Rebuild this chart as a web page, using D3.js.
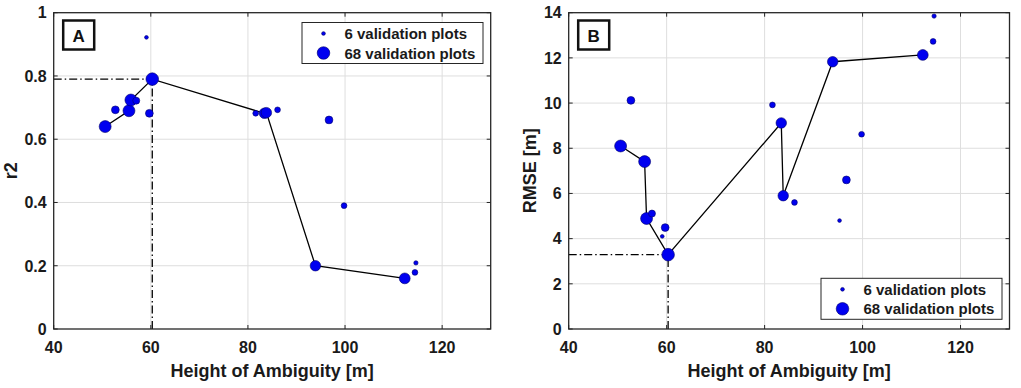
<!DOCTYPE html>
<html>
<head>
<meta charset="utf-8">
<script src="https://cdn.jsdelivr.net/npm/d3@7"></script>
<style>
  body { margin: 0; background: #fff; }
  svg { display: block; font-family: "Liberation Sans", Arial, sans-serif; }
</style>
</head>
<body>
<svg id="chart" width="1021" height="388"></svg>
<script>
// height of ambiguity [m] for each acquisition
const hoa    = [50.6, 52.7, 55.5, 55.9, 57.0, 59.1, 59.7, 60.3, 81.6, 83.4, 83.8, 86.1, 93.9, 95.3, 96.7, 99.8, 112.3, 114.4, 114.6];
// number of validation plots (marker size)
const nPlots = [61, 26, 61, 61, 21, 6, 26, 68, 14, 47, 47, 14, 47, 6, 26, 14, 50, 14, 8];
const r2     = [0.64, 0.693, 0.69, 0.724, 0.722, 0.922, 0.682, 0.79, 0.682, 0.682, 0.684, 0.693, 0.2, 0.845, 0.661, 0.39, 0.16, 0.179, 0.209];
const rmse   = [8.1, 10.12, 7.41, 4.89, 5.11, 4.1, 4.49, 3.29, 9.92, 9.12, 5.9, 5.6, 11.83, 4.8, 6.6, 8.62, 12.13, 12.73, 13.85];
// points joined by the black line
const trend  = [1, 0, 1, 1, 0, 0, 0, 1, 0, 1, 1, 0, 1, 0, 0, 0, 1, 0, 0];

const xTicks = [40, 60, 80, 100, 120];
const r2Ticks = [0, 0.2, 0.4, 0.6, 0.8, 1];
const rmseTicks = [0, 2, 4, 6, 8, 10, 12, 14];
const legendCounts = [6, 68];

const svg = d3.select("#chart");
const textCol = "#1a1a1a";
const rScale = d3.scaleSqrt().domain([0, 68]).range([0, 6.3]);

function drawPanel(cfg) {
  const g = svg.append("g");
  const x = d3.scaleLinear().domain([40, 130]).range([cfg.left, cfg.right]);
  const y = d3.scaleLinear().domain(cfg.yDomain).range([329, 12.7]);
  const vals = cfg.values;

  // grid
  g.append("g").selectAll("line").data(xTicks.slice(1))
    .join("line")
    .attr("x1", d => x(d)).attr("x2", d => x(d))
    .attr("y1", y.range()[0]).attr("y2", y.range()[1])
    .attr("stroke", "#dedede").attr("stroke-width", 1);
  g.append("g").selectAll("line").data(cfg.yTicks.slice(1, -1))
    .join("line")
    .attr("x1", cfg.left).attr("x2", cfg.right)
    .attr("y1", d => y(d)).attr("y2", d => y(d))
    .attr("stroke", "#dedede").attr("stroke-width", 1);

  // best point, dash-dot guides
  const idx = d3.range(hoa.length).filter(i => trend[i]);
  const best = cfg.pickBest(idx);
  const dashDot = "8,3,1.5,3";
  g.append("line")
    .attr("x1", x(40)).attr("x2", x(hoa[best]))
    .attr("y1", y(vals[best])).attr("y2", y(vals[best]))
    .attr("stroke", "#000").attr("stroke-width", 1.3).attr("stroke-dasharray", dashDot);
  g.append("line")
    .attr("x1", x(hoa[best])).attr("x2", x(hoa[best]))
    .attr("y1", y(cfg.yDomain[0])).attr("y2", y(vals[best]))
    .attr("stroke", "#000").attr("stroke-width", 1.3).attr("stroke-dasharray", dashDot);

  // trend line
  const line = d3.line().x(i => x(hoa[i])).y(i => y(vals[i]));
  g.append("path")
    .attr("d", line(idx.sort((a, b) => hoa[a] - hoa[b])))
    .attr("fill", "none").attr("stroke", "#000").attr("stroke-width", 1.3);

  // points
  g.append("g").selectAll("circle").data(d3.range(hoa.length))
    .join("circle")
    .attr("cx", i => x(hoa[i]))
    .attr("cy", i => y(vals[i]))
    .attr("r", i => rScale(nPlots[i]))
    .attr("fill", "#0000f0")
    .attr("stroke", "#00006a")
    .attr("stroke-width", 0.6);

  // axes box
  const [y0, y1] = y.range();
  g.append("rect")
    .attr("x", cfg.left).attr("y", y1)
    .attr("width", cfg.right - cfg.left).attr("height", y0 - y1)
    .attr("fill", "none").attr("stroke", "#262626").attr("stroke-width", 1.3);

  // inward ticks on all sides
  const tl = 4;
  const ticks = g.append("g").attr("stroke", "#262626").attr("stroke-width", 1);
  xTicks.forEach(t => {
    ticks.append("line").attr("x1", x(t)).attr("x2", x(t)).attr("y1", y0).attr("y2", y0 - tl);
    ticks.append("line").attr("x1", x(t)).attr("x2", x(t)).attr("y1", y1).attr("y2", y1 + tl);
  });
  cfg.yTicks.forEach(t => {
    ticks.append("line").attr("x1", cfg.left).attr("x2", cfg.left + tl).attr("y1", y(t)).attr("y2", y(t));
    ticks.append("line").attr("x1", cfg.right).attr("x2", cfg.right - tl).attr("y1", y(t)).attr("y2", y(t));
  });

  // tick labels
  g.append("g").selectAll("text").data(xTicks)
    .join("text")
    .attr("x", d => x(d)).attr("y", 352.5)
    .attr("text-anchor", "middle")
    .attr("font-size", 16).attr("font-weight", "bold").attr("fill", textCol)
    .text(d => d);
  g.append("g").selectAll("text").data(cfg.yTicks)
    .join("text")
    .attr("x", cfg.left - 7).attr("y", d => y(d))
    .attr("dy", "0.36em")
    .attr("text-anchor", "end")
    .attr("font-size", 16).attr("font-weight", "bold").attr("fill", textCol)
    .text(d => d);

  // axis titles
  g.append("text")
    .attr("x", (cfg.left + cfg.right) / 2).attr("y", 377)
    .attr("text-anchor", "middle")
    .attr("font-size", 18).attr("font-weight", "bold").attr("fill", textCol)
    .text("Height of Ambiguity [m]");
  g.append("text")
    .attr("transform", `translate(${cfg.yTitleX},${(y0 + y1) / 2}) rotate(-90)`)
    .attr("text-anchor", "middle")
    .attr("font-size", 18).attr("font-weight", "bold").attr("fill", textCol)
    .text(cfg.yTitle);

  // panel letter
  g.append("rect")
    .attr("x", cfg.left + 9.5).attr("y", 20.5)
    .attr("width", 31).attr("height", 29)
    .attr("fill", "#fff").attr("stroke", "#111").attr("stroke-width", 2.5);
  g.append("text")
    .attr("x", cfg.left + 25).attr("y", 41.5)
    .attr("text-anchor", "middle")
    .attr("font-size", 17).attr("font-weight", "bold").attr("fill", "#111")
    .text(cfg.letter);

  // legend
  const lg = g.append("g").attr("transform", `translate(${cfg.legend[0]},${cfg.legend[1]})`);
  lg.append("rect")
    .attr("width", 181).attr("height", 41)
    .attr("fill", "#fff").attr("stroke", "#262626").attr("stroke-width", 1);
  legendCounts.forEach((n, k) => {
    lg.append("circle")
      .attr("cx", 21.5).attr("cy", 11 + k * 19.5)
      .attr("r", rScale(n))
      .attr("fill", "#0000f0").attr("stroke", "#00006a").attr("stroke-width", 0.6);
    lg.append("text")
      .attr("x", 42.5).attr("y", 16.5 + k * 19.5)
      .attr("font-size", 15).attr("font-weight", "bold").attr("fill", textCol)
      .text(`${n} validation plots`);
  });
}

drawPanel({
  left: 53.7, right: 490.7,
  yDomain: [0, 1], yTicks: r2Ticks, values: r2,
  pickBest: idx => idx[d3.maxIndex(idx, i => r2[i])],
  yTitle: "r2", yTitleX: 17,
  letter: "A", legend: [302, 22.5]
});

drawPanel({
  left: 568.7, right: 1009.5,
  yDomain: [0, 14], yTicks: rmseTicks, values: rmse,
  pickBest: idx => idx[d3.minIndex(idx, i => rmse[i])],
  yTitle: "RMSE [m]", yTitleX: 535.5,
  letter: "B", legend: [821, 278.3]
});
</script>
</body>
</html>
